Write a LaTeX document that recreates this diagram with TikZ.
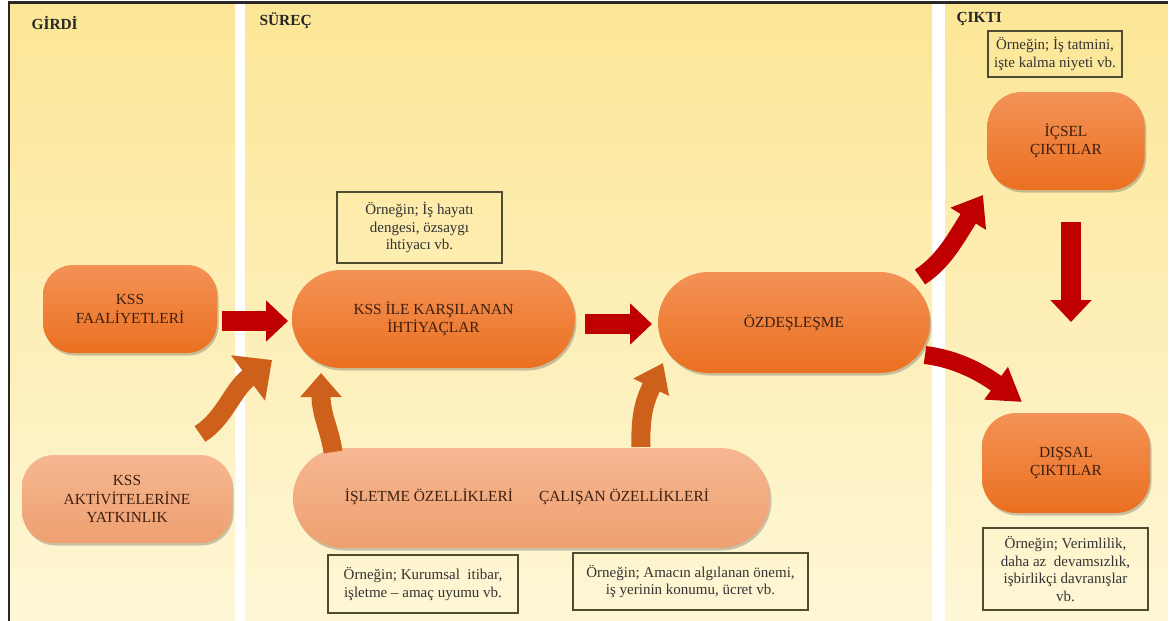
\documentclass[tikz,border=0pt]{standalone}
\usepackage{fontspec}
\setmainfont{Liberation Serif}
\usetikzlibrary{shapes.misc,shadows,arrows.meta}

\definecolor{panelTop}{RGB}{252,230,150}
\definecolor{panelBot}{RGB}{254,247,214}
\definecolor{nodeTop}{RGB}{243,146,86}
\definecolor{nodeBot}{RGB}{235,112,32}
\definecolor{paleTop}{RGB}{246,183,145}
\definecolor{paleBot}{RGB}{238,160,112}
\definecolor{redArrow}{RGB}{192,0,0}
\definecolor{orangeArrow}{RGB}{205,96,26}
\definecolor{inkBrown}{RGB}{62,30,14}
\definecolor{boxLine}{RGB}{80,76,50}
\definecolor{frameLine}{RGB}{40,40,40}

\begin{document}
\begin{tikzpicture}[x=1pt,y=-1pt,
  every node/.style={font=\fontsize{15.4}{18.5}\selectfont,text=inkBrown,align=center},
  panel/.style={top color=panelTop,bottom color=panelBot,draw=none},
  header/.style={font=\fontsize{15.4}{18}\selectfont\bfseries,text=black!85,anchor=base west},
  softshadow/.style={drop shadow={shadow xshift=1.5pt,shadow yshift=-2.5pt,opacity=.3,fill=black!70}},
  stage/.style={softshadow,top color=nodeTop,bottom color=nodeBot,inner sep=0pt},
  pale/.style={softshadow,top color=paleTop,bottom color=paleBot,inner sep=0pt},
  note/.style={draw=boxLine,line width=1.1pt,inner sep=0pt,
    font=\fontsize{15}{17.5}\selectfont,text=black!80},
  blockR/.style={draw=redArrow,line width=20pt,-{Triangle[length=22pt,width=40pt]}},
  curveR/.style={draw=redArrow,line width=18pt},
  curveO/.style={draw=orangeArrow,line width=19pt},
]
\useasboundingbox (0,0) rectangle (1173,621);
\fill[white] (0,0) rectangle (1173,621);

% three column panels
\fill[panel] (10,4) rectangle (235,621);
\fill[panel] (245,4) rectangle (932,621);
\fill[panel] (945,4) rectangle (1168,621);
\draw[frameLine,line width=2.5pt] (9,621) -- (9,2.5) -- (1168,2.5);

% column headings
\node[header] (hIn)  at (28,29)  {GİRDİ};
\node[header] (hPr)  at (256,25) {SÜREÇ};
\node[header] (hOut) at (953,22) {ÇIKTI};

% main stages
\node[stage,rounded corners=30pt,minimum width=174pt,minimum height=88pt] (faal) at (130,309) {KSS\\FAALİYETLERİ};
\node[pale,rounded corners=32pt,minimum width=210pt,minimum height=88pt] (yatk) at (127,499) {KSS\\AKTİVİTELERİNE\\YATKINLIK};
\node[stage,rounded rectangle,minimum width=283pt,minimum height=98pt] (ihti) at (433.5,319) {KSS İLE KARŞILANAN\\İHTİYAÇLAR};
\node[stage,rounded rectangle,minimum width=272pt,minimum height=101pt] (ozd) at (794,322.5) {ÖZDEŞLEŞME};
\node[pale,rounded rectangle,minimum width=477pt,minimum height=100pt] (ozel) at (531.5,498) {};
\node (isl) at (429,497) {İŞLETME ÖZELLİKLERİ};
\node (cal) at (624,497) {ÇALIŞAN ÖZELLİKLERİ};
\node[stage,rounded corners=34pt,minimum width=157pt,minimum height=98pt] (icsel) at (1066,141) {İÇSEL\\ÇIKTILAR};
\node[stage,rounded corners=34pt,minimum width=168pt,minimum height=100pt] (dissal) at (1066,463) {DIŞSAL\\ÇIKTILAR};

% example boxes
\node[note,minimum width=165pt,minimum height=71pt] (nIhti) at (419.5,227.5) {Örneğin; İş hayatı\\dengesi, özsaygı\\ihtiyacı vb.};
\node[note,minimum width=134pt,minimum height=46pt] (nIc) at (1055,54) {Örneğin; İş tatmini,\\işte kalma niyeti vb.};
\node[note,minimum width=190pt,minimum height=58pt] (nIsl) at (423,584) {Örneğin; Kurumsal\ \ itibar,\\işletme – amaç uyumu vb.};
\node[note,minimum width=235pt,minimum height=57pt] (nCal) at (690.5,581.5) {Örneğin; Amacın algılanan önemi,\\iş yerinin konumu, ücret vb.};
\node[note,minimum width=165pt,minimum height=82pt] (nDis) at (1065.5,569) {Örneğin; Verimlilik,\\daha az\ \ devamsızlık,\\işbirlikçi davranışlar\\vb.};

% arrow end points
\coordinate (fS) at (222,321);  \coordinate (fE) at (288,321);
\coordinate (iS) at (585,324);  \coordinate (iE) at (652,324);
\coordinate (dS) at (1071,222); \coordinate (dE) at (1071,322);
\coordinate (yS) at (200,434);  \coordinate (yE) at (272,360);
\coordinate (oS) at (333,452);  \coordinate (oE) at (321,373);
\coordinate (cS) at (641,447);  \coordinate (cE) at (663,363);
\coordinate (uS) at (920,277);  \coordinate (uE) at (983,195);
\coordinate (lS) at (925,355);  \coordinate (lE) at (1022,402);

% straight block arrows
\draw[blockR] (fS) -- (fE);
\draw[blockR] (iS) -- (iE);
\draw[blockR] (dS) -- (dE);

% curved arrows
\draw[curveO,-{Triangle[length=30pt,width=55pt]}] (yS) .. controls (225,418) and (232,390) .. (yE);
\draw[curveO,-{Triangle[length=24pt,width=40pt]}] (oS) .. controls (330,430) and (321,415) .. (oE);
\draw[curveO,-{Triangle[length=27pt,width=38pt]}] (cS) .. controls (640,415) and (645,400) .. (cE);
\draw[curveR,-{Triangle[length=28pt,width=40pt]}] (uS) .. controls (943,262) and (955,240) .. (uE);
\draw[curveR,-{Triangle[length=32pt,width=38pt]}] (lS) .. controls (950,358) and (975,368) .. (lE);
\end{tikzpicture}
\end{document}
